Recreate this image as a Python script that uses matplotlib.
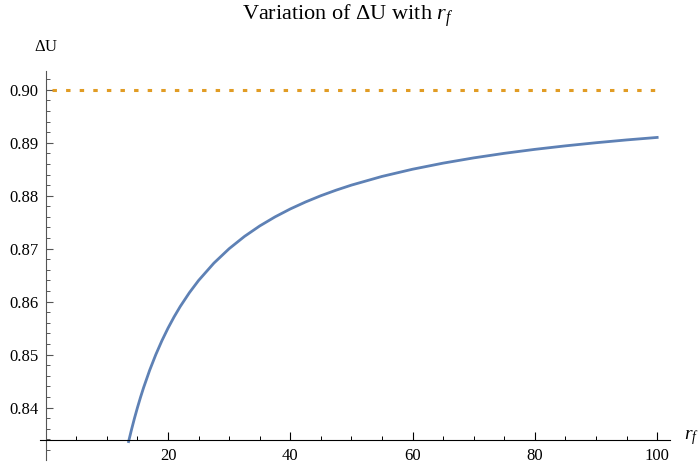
import matplotlib
matplotlib.use("Agg")
import matplotlib.pyplot as plt
from matplotlib.ticker import MultipleLocator, FixedLocator

# values
r_f = [13.55, 14, 14.5, 15, 15.5, 16, 17, 18, 19, 20, 21, 22, 23.5, 25,
       27.5, 30, 32.5, 35, 37.5, 40, 42.5, 45, 47.5, 50, 55, 60, 65, 70,
       75, 80, 85, 90, 95, 100]
delta_u = [0.83358, 0.83571, 0.83793, 0.84000, 0.84194, 0.84375, 0.84706,
           0.85000, 0.85263, 0.85500, 0.85714, 0.85909, 0.86170, 0.86400,
           0.86727, 0.87000, 0.87231, 0.87429, 0.87600, 0.87750, 0.87882,
           0.88000, 0.88105, 0.88200, 0.88364, 0.88500, 0.88615, 0.88714,
           0.88800, 0.88875, 0.88941, 0.89000, 0.89053, 0.89100]
limit_r = [1, 100]
limit_u = [0.90, 0.90]
x_major = [20, 40, 60, 80, 100]
y_major = [0.84, 0.85, 0.86, 0.87, 0.88, 0.89, 0.90]

plt.rcParams['font.family'] = ['Liberation Serif', 'DejaVu Serif']
plt.rcParams['mathtext.fontset'] = 'custom'
plt.rcParams['mathtext.rm'] = 'Liberation Serif'
plt.rcParams['mathtext.it'] = 'Liberation Serif:italic'

fig = plt.figure(figsize=(6.99, 4.66), dpi=100)
ax = fig.add_axes([40 / 699, 6 / 466, 630 / 699, 389.3 / 466])

ax.plot(limit_r, limit_u, color='#E19C24', lw=2.2,
        linestyle=(0, (1.45, 3.0)), dash_capstyle='butt')
ax.plot(r_f, delta_u, color='#5E81B5', lw=2.0, solid_joinstyle='round')

ax.set_xlim(-0.94, 102.1)
ax.set_ylim(0.8301, 0.9036)

for s in ['top', 'right']:
    ax.spines[s].set_visible(False)
ax.spines['left'].set_position(('data', 0))
ax.spines['bottom'].set_position(('data', 0.8339))
ax.spines['left'].set_color('#555555')
ax.spines['bottom'].set_color('black')

ax.xaxis.set_major_locator(FixedLocator(x_major))
ax.xaxis.set_minor_locator(MultipleLocator(5))
ax.yaxis.set_major_locator(FixedLocator(y_major))
ax.yaxis.set_minor_locator(MultipleLocator(0.002))
ax.set_yticklabels([f'{v:.2f}' for v in y_major])
ax.set_xticklabels([str(v) for v in x_major])

ax.tick_params(which='both', direction='in', labelsize=12)
ax.tick_params(axis='x', which='major', length=5.5, width=0.8, pad=6)
ax.tick_params(axis='x', which='minor', length=3, width=0.7)
ax.tick_params(axis='y', which='major', length=5, width=0.8, pad=5,
               color='#555555')
ax.tick_params(axis='y', which='minor', length=3, width=0.7,
               color='#555555')

fig.text(348 / 699, 1 - 16 / 466, r'Variation of $\Delta$U with $r_f$',
         ha='center', va='center', fontsize=16)
fig.text(46 / 699, 1 - 47 / 466, r'$\Delta$U', ha='center', va='center',
         fontsize=12)
fig.text(691 / 699, 1 - 438 / 466, r'$r_f$', ha='center', va='center',
         fontsize=14)

fig.savefig('out.png', dpi=100)
